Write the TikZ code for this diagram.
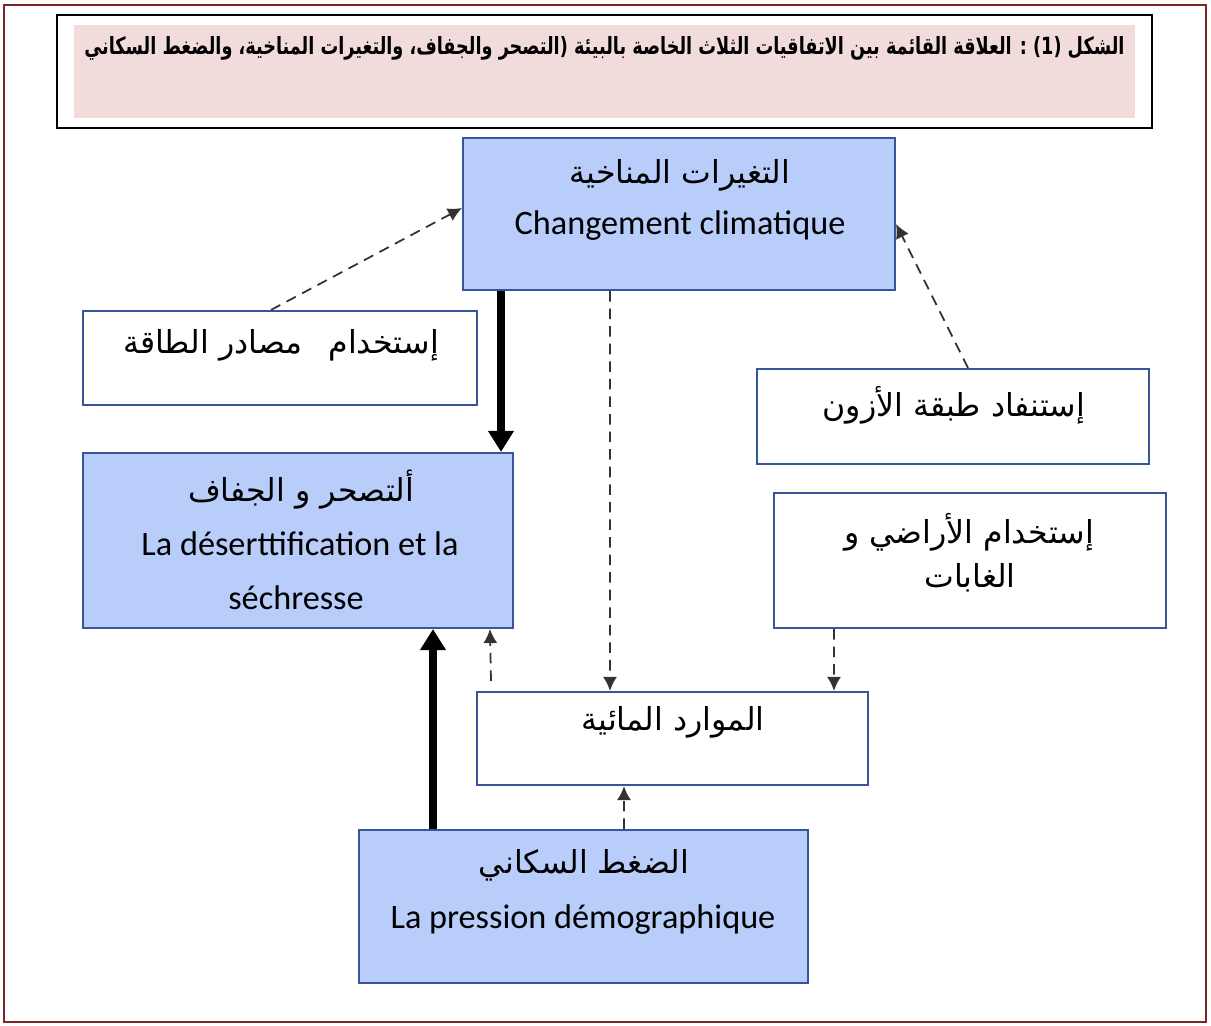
\documentclass[tikz,border=0pt]{standalone}
\usepackage{fontspec}
\setmainfont{Carlito}
\newfontfamily\arabicfont[Script=Arabic]{DejaVu Sans}
\TeXXeTstate=1
\usetikzlibrary{calc,arrows.meta}

\definecolor{boxblue}{RGB}{185,205,250}
\definecolor{boxline}{RGB}{55,85,155}
\definecolor{titlepink}{RGB}{242,220,219}
\definecolor{framered}{RGB}{125,40,40}

\tikzset{
  bluebox/.style={draw=boxline,fill=boxblue,line width=1.2pt,inner sep=0pt},
  whitebox/.style={draw=boxline,fill=white,line width=1.2pt,inner sep=0pt},
  artext/.style={inner sep=0pt,font=\arabicfont\fontsize{18}{21}\selectfont},
  frtext/.style={inner sep=0pt,font=\fontsize{19.5}{23}\selectfont},
  dasharrow/.style={-{Latex[length=8pt,width=8pt]},dash pattern=on 6pt off 4pt,
    line width=1pt,draw=black!80},
  thickarrow/.style={-{Triangle[length=12pt,width=14pt]},line width=4.5pt}
}

\begin{document}
\begin{tikzpicture}[x=0.02cm,y=-0.02cm]
\useasboundingbox (0,0) rectangle (1211,1026);

% page frame
\draw[framered,line width=1.2pt] (4,5) rectangle (1206,1022);

% title
\node[draw=black,line width=1.5pt,fill=white,minimum width=21.9cm,minimum height=2.26cm,inner sep=0pt]
  (titlebox) at (604.5,71.5) {};
\node[fill=titlepink,minimum width=21.22cm,minimum height=1.86cm,inner sep=0pt]
  (titlefill) at (604.5,71.5) {};
\node[anchor=east,inner sep=0pt,font=\arabicfont\bfseries\fontsize{13.5}{16}\selectfont]
  (title) at (1125,48) {\scalebox{0.745}[1]{\beginR الشكل (1) : العلاقة القائمة بين الاتفاقيات الثلاث الخاصة بالبيئة (التصحر والجفاف، والتغيرات المناخية، والضغط السكاني\endR}};

% boxes
\node[bluebox,minimum width=8.64cm,minimum height=3.04cm] (climate) at (679,214) {};
\node[whitebox,minimum width=7.88cm,minimum height=1.88cm] (energy) at (280,358) {};
\node[whitebox,minimum width=7.84cm,minimum height=1.9cm] (ozone) at (953,416.5) {};
\node[bluebox,minimum width=8.6cm,minimum height=3.5cm] (desert) at (298,540.5) {};
\node[whitebox,minimum width=7.84cm,minimum height=2.7cm] (land) at (970,560.5) {};
\node[whitebox,minimum width=7.82cm,minimum height=1.86cm] (water) at (672.5,738.5) {};
\node[bluebox,minimum width=8.98cm,minimum height=3.06cm] (pop) at (583.5,906.5) {};

% box texts
\node[artext] (climate-ar) at (680,175) {\beginR التغيرات المناخية\endR};
\node[frtext] (climate-fr) at (680,226) {Changement climatique};
\node[artext] (energy-ar) at (281,345) {\beginR إستخدام \enspace مصادر الطاقة\endR};
\node[artext] (ozone-ar) at (954,405) {\beginR إستنفاد طبقة الأزون\endR};
\node[artext] (desert-ar) at (301,490) {\beginR ألتصحر و الجفاف\endR};
\node[frtext] (desert-fr1) at (300,544) {La déserttification et la};
\node[frtext] (desert-fr2) at (296,598) {séchresse};
\node[artext] (land-ar1) at (969,532) {\beginR إستخدام الأراضي و\endR};
\node[artext] (land-ar2) at (970,578) {\beginR الغابات\endR};
\node[artext] (water-ar) at (673,722) {\beginR الموارد المائية\endR};
\node[artext] (pop-ar) at (584,865) {\beginR الضغط السكاني\endR};
\node[frtext] (pop-fr) at (583,920) {La pression démographique};

% solid links
\draw[thickarrow] ($(climate.south west)+(39,0)$) -- ($(desert.north west)+(419,0)$);
\draw[thickarrow] ($(pop.north west)+(75,0)$) -- ($(desert.south west)+(351,0)$);

% dashed links
\draw[dasharrow] ($(energy.north west)+(189,0)$) -- ($(climate.west)+(0,-6)$);
\draw[dasharrow] ($(ozone.north west)+(212,0)$) -- ($(climate.east)+(0,10)$);
\draw[dasharrow] ($(climate.south west)+(148,0)$) -- ($(water.north west)+(134,0)$);
\draw[dasharrow] ($(land.south west)+(61,0)$) -- ($(water.north west)+(358,0)$);
\draw[dasharrow] ($(pop.north west)+(266,0)$) -- ($(water.south west)+(148,0)$);
\coordinate (gap) at (491,681);
\draw[dasharrow] (gap) -- ($(desert.south west)+(408,0)$);
\end{tikzpicture}
\end{document}
